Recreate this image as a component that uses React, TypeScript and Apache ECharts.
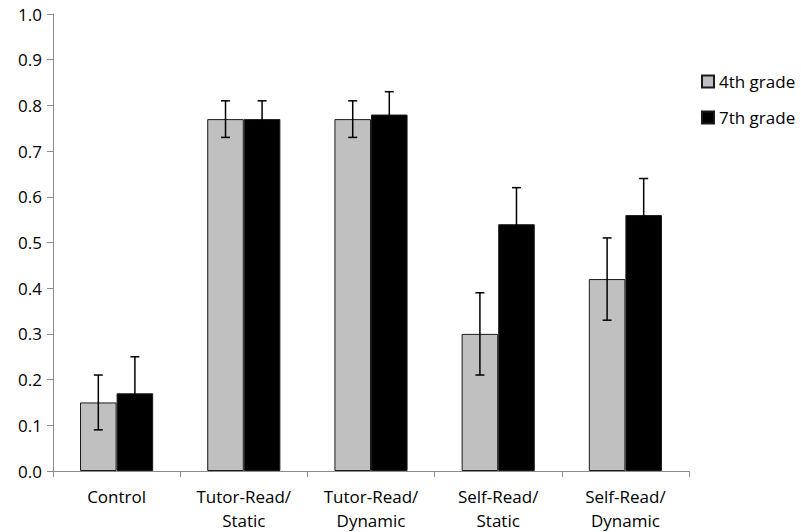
import React, { useEffect, useRef } from "react";
import * as echarts from "echarts";

const categories = ["Control", "Tutor-Read/\nStatic", "Tutor-Read/\nDynamic", "Self-Read/\nStatic", "Self-Read/\nDynamic"];
const seriesNames = ["4th grade", "7th grade"];
const grade4 = [0.15, 0.77, 0.77, 0.30, 0.42];
const grade7 = [0.17, 0.77, 0.78, 0.54, 0.56];
const err4 = [0.06, 0.04, 0.04, 0.09, 0.09];
const err7 = [0.08, 0.04, 0.05, 0.08, 0.08];
const yTicks = [0, 0.1, 0.2, 0.3, 0.4, 0.5, 0.6, 0.7, 0.8, 0.9, 1.0];

const FONT = "'Open Sans', Lato, sans-serif";
const FS = 17;
const CAT_GAP = 0.425;

function errorSeries(values: number[], errs: number[], side: number) {
  return {
    type: "custom",
    silent: true,
    z: 5,
    data: values.map((v, i) => [i, v, v - errs[i], v + errs[i]]),
    renderItem: (params: any, api: any) => {
      const idx = api.value(0);
      const lo = api.coord([idx, api.value(2)]);
      const hi = api.coord([idx, api.value(3)]);
      const band = api.size([1, 0])[0];
      const bw = (band * (1 - CAT_GAP)) / 2;
      const x = lo[0] + side * bw / 2;
      const cap = 4.5;
      const style = { stroke: "#000", lineWidth: 1.5 };
      return {
        type: "group",
        children: [
          { type: "line", shape: { x1: x, y1: lo[1], x2: x, y2: hi[1] }, style },
          { type: "line", shape: { x1: x - cap, y1: lo[1], x2: x + cap, y2: lo[1] }, style },
          { type: "line", shape: { x1: x - cap, y1: hi[1], x2: x + cap, y2: hi[1] }, style },
        ],
      };
    },
  };
}

export default function App() {
  const ref = useRef<HTMLDivElement>(null);
  useEffect(() => {
    const chart = echarts.init(ref.current!, undefined, { renderer: "svg" });
    chart.setOption({
      animation: false,
      backgroundColor: "#fff",
      textStyle: { fontFamily: FONT },
      grid: { left: 53, right: 112, top: 14, bottom: 60, containLabel: false },
      legend: {
        orient: "vertical",
        left: 701,
        top: 73,
        padding: 0,
        itemWidth: 12,
        itemHeight: 12,
        itemGap: 19,
        icon: "rect",
        data: seriesNames,
        textStyle: { fontFamily: FONT, fontSize: FS, color: "#000" },
      },
      xAxis: {
        type: "category",
        data: categories,
        axisLine: { lineStyle: { color: "#8c8c8c", width: 1 } },
        axisTick: { show: true, length: 6, lineStyle: { color: "#8c8c8c" } },
        axisLabel: { fontFamily: FONT, fontSize: FS, color: "#000", lineHeight: 24, margin: 13 },
        splitLine: { show: false },
      },
      yAxis: {
        type: "value",
        min: 0,
        max: 1,
        interval: 0.1,
        axisLine: { show: true, lineStyle: { color: "#8c8c8c", width: 1 } },
        axisTick: { show: true, inside: false, length: 6, lineStyle: { color: "#8c8c8c" } },
        axisLabel: {
          fontFamily: FONT,
          fontSize: FS,
          color: "#000",
          margin: 11,
          formatter: (v: number) => {
            const t = yTicks.find((x) => Math.abs(x - v) < 1e-9);
            return (t !== undefined ? t : v).toFixed(1);
          },
        },
        splitLine: { show: false },
      },
      series: [
        {
          name: seriesNames[0],
          type: "bar",
          data: grade4,
          barGap: "0%",
          barCategoryGap: CAT_GAP * 100 + "%",
          itemStyle: { color: "#c0c0c0", borderColor: "#1a1a1a", borderWidth: 1 },
        },
        {
          name: seriesNames[1],
          type: "bar",
          data: grade7,
          barGap: "0%",
          barCategoryGap: CAT_GAP * 100 + "%",
          itemStyle: { color: "#000", borderColor: "#1a1a1a", borderWidth: 1 },
        },
        errorSeries(grade4, err4, -1),
        errorSeries(grade7, err7, 1),
      ],
    });
    return () => chart.dispose();
  }, []);
  return <div ref={ref} style={{ width: 801, height: 532, position: "absolute", left: 0, top: 0 }} />;
}
